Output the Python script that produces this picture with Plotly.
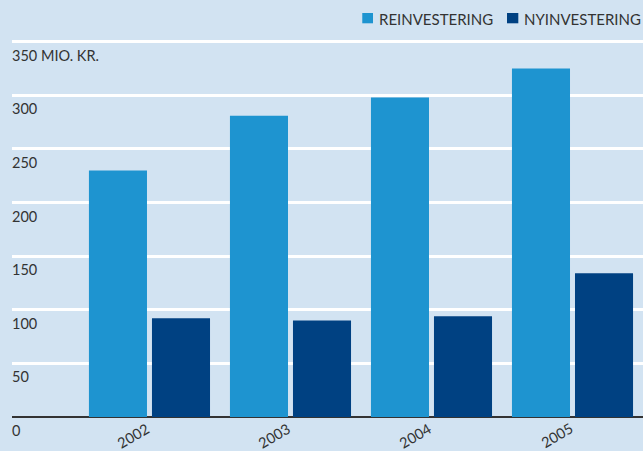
import plotly.graph_objects as go

years = ["2002", "2003", "2004", "2005"]
reinvestering = [230, 281, 298, 325]
nyinvestering = [92, 90, 94, 134]
series_names = ["REINVESTERING", "NYINVESTERING"]
y_ticks = [0, 50, 100, 150, 200, 250, 300, 350]
y_tick_labels = ["0", "50", "100", "150", "200", "250", "300", "350 MIO. KR."]

BG = "#D2E3F2"
LIGHT = "#1E94D0"
DARK = "#004182"
TXT = "#333333"
FONT = "Lato"

fig = go.Figure()
fig.add_trace(go.Bar(x=years, y=reinvestering, name=series_names[0],
                     marker=dict(color=LIGHT, line=dict(width=0))))
fig.add_trace(go.Bar(x=years, y=nyinvestering, name=series_names[1],
                     marker=dict(color=DARK, line=dict(width=0))))

annotations = []
for v, lab in zip(y_ticks, y_tick_labels):
    annotations.append(dict(x=0, xref="paper", y=v, yref="y", text=lab,
                            showarrow=False, xanchor="left", yanchor="top",
                            yshift=-3, xshift=-2,
                            font=dict(family=FONT, size=14.5, color=TXT)))
for i, yr in enumerate(years):
    annotations.append(dict(x=i, xref="x", y=0, yref="y", text=yr,
                            showarrow=False, xanchor="center", yanchor="middle",
                            xshift=-16, yshift=-18, textangle=-30, borderpad=0,
                            font=dict(family=FONT, size=14.5, color=TXT)))

# custom legend (squares + labels)
legend_sq_x = [(0.5551, 0.5721), (0.7845, 0.8024)]
legend_txt_x = [0.5816, 0.8119]
shapes = []
for (x0, x1), tx, name, col in zip(legend_sq_x, legend_txt_x, series_names, [LIGHT, DARK]):
    shapes.append(dict(type="rect", xref="paper", yref="paper", x0=x0, x1=x1,
                       y0=1.0443, y1=1.0716, fillcolor=col, line=dict(width=0)))
    annotations.append(dict(x=tx, xref="paper", y=1.0570, yref="paper", text=name,
                            showarrow=False, xanchor="left", yanchor="middle",
                            xshift=-2, font=dict(family=FONT, size=15, color=TXT)))

fig.update_layout(
    width=643, height=451,
    margin=dict(l=12, r=0, t=40, b=34, autoexpand=False),
    paper_bgcolor=BG, plot_bgcolor=BG,
    barmode="group", bargap=0.106, bargroupgap=0.079,
    font=dict(family=FONT, size=14, color=TXT),
    showlegend=False,
    xaxis=dict(type="category", range=[-0.975, 3.5], showticklabels=False,
               showgrid=False, zeroline=False, showline=False, ticks=""),
    yaxis=dict(range=[0, 351.6], tickvals=y_ticks[1:], showticklabels=False,
               showgrid=True, gridcolor="white", gridwidth=2.5,
               zeroline=True, zerolinecolor="#333333", zerolinewidth=2,
               showline=False, ticks=""),
    annotations=annotations,
    shapes=shapes,
)

fig.write_html("out.html", config={"displayModeBar": False},
               post_script="document.body.style.margin='0';")
